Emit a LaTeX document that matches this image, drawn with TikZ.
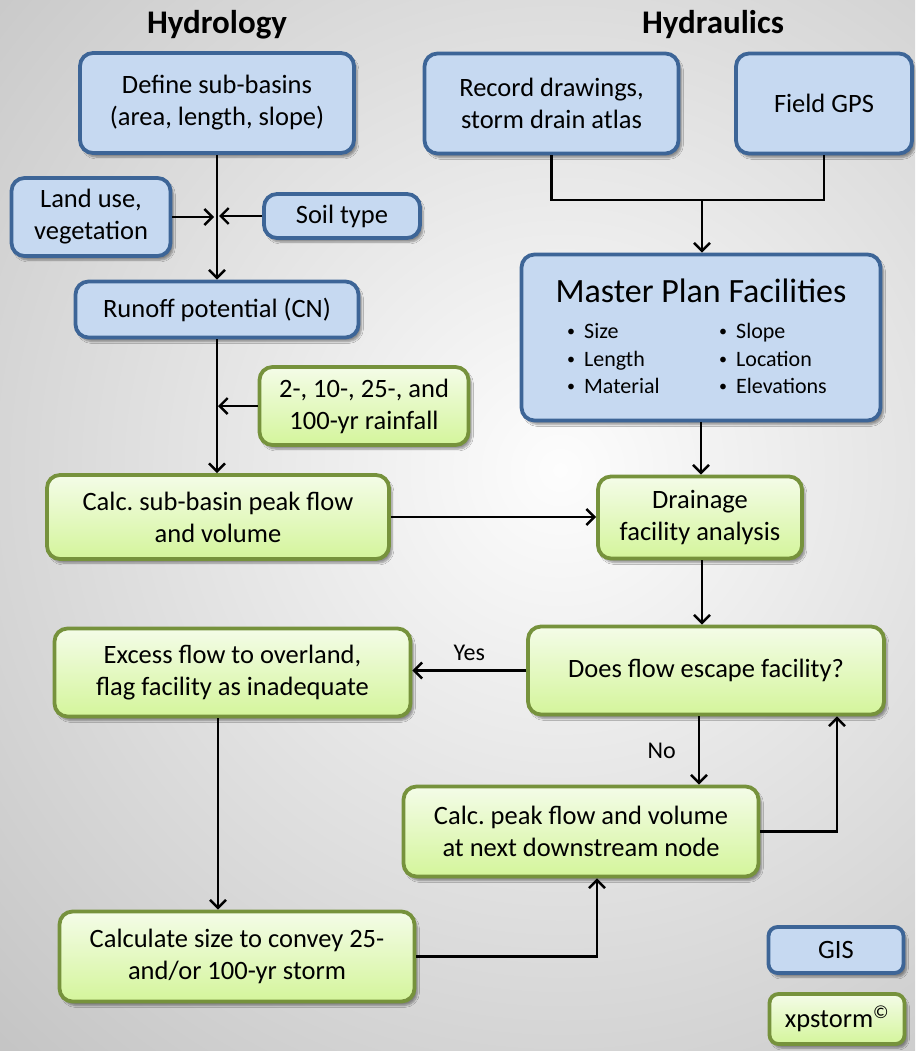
\documentclass[tikz,border=0pt]{standalone}
\usepackage{fontspec}
\setmainfont{Carlito}
\frenchspacing
\usetikzlibrary{arrows.meta,shadows.blur}
\definecolor{bluefill}{RGB}{198,217,241}
\definecolor{blueline}{RGB}{61,101,151}
\definecolor{greenline}{RGB}{118,146,60}
\definecolor{greentop}{RGB}{244,252,232}
\definecolor{greenbot}{RGB}{212,245,155}
\definecolor{bgout}{RGB}{155,155,155}
\definecolor{bgin}{RGB}{253,253,253}
\newcommand\myfont{\fontsize{26.5}{32}\selectfont}
\newcommand\mytitlefont{\fontsize{33}{38}\selectfont\bfseries}
\newcommand\mybul{{\fontsize{16}{16}\selectfont\raisebox{1.5pt}{•}}\hspace{9pt}}
\tikzset{
  base/.style={rounded corners=13pt, line width=3.8pt, inner sep=0pt, align=center, font=\myfont,
    blur shadow={shadow xshift=3pt, shadow yshift=-4pt, shadow blur steps=6, shadow opacity=40}},
  bluebox/.style={base, draw=blueline, fill=bluefill},
  greenbox/.style={base, draw=greenline, top color=greentop, bottom color=greenbot},
  arr/.style={line width=2.4pt, -{Straight Barb[length=8pt,width=16pt]}},
  ln/.style={line width=2.4pt},
  ttl/.style={font=\mytitlefont, inner sep=0pt},
  lbl/.style={font=\fontsize{24}{28}\selectfont, inner sep=0pt},
  bul/.style={font=\fontsize{22}{27}\selectfont, inner sep=0pt, anchor=base west},
}
\begin{document}
\begin{tikzpicture}[x=1pt,y=-1pt]
\useasboundingbox (0,0) rectangle (915,1051);
\begin{scope}
  \clip (0,0) rectangle (915,1051);
  \shade[inner color=bgin, outer color=bgout] (560,470) circle (1400);
\end{scope}

% titles
\node[ttl] (th) at (217,25) {Hydrology};
\node[ttl] (tr) at (713,25) {Hydraulics};

% hydrology
\node[bluebox, minimum width=274, minimum height=100] (def) at (217,103) {Define sub-basins\\(area, length, slope)};
\node[bluebox, minimum width=159, minimum height=78] (land) at (91,217) {Land use,\\vegetation};
\node[bluebox, minimum width=156, minimum height=44] (soil) at (342,216) {Soil type};
\node[bluebox, minimum width=283, minimum height=56] (runoff) at (217,309.5) {Runoff potential (CN)};
\node[greenbox, minimum width=209, minimum height=78] (rain) at (364,406) {2-, 10-, 25-, and\\100-yr rainfall};
\node[greenbox, minimum width=342, minimum height=84] (calc1) at (218,517) {Calc. sub-basin peak flow\\and volume};

% hydraulics
\node[bluebox, minimum width=254, minimum height=100] (rec) at (551.5,103.5) {Record drawings,\\storm drain atlas};
\node[bluebox, minimum width=176, minimum height=100] (gps) at (824,103.5) {Field GPS};
\node[bluebox, minimum width=359, minimum height=166] (master) at (701,337.5) {};
\node[inner sep=0pt, font=\fontsize{34}{40}\selectfont] (mtitle) at (701,291) {Master Plan Facilities};
\node[bul] (b1) at (567,338) {\mybul Size};
\node[bul] (b2) at (567,366) {\mybul Length};
\node[bul] (b3) at (567,393) {\mybul Material};
\node[bul] (b4) at (719,338) {\mybul Slope};
\node[bul] (b5) at (719,366) {\mybul Location};
\node[bul] (b6) at (719,393) {\mybul Elevations};
\node[greenbox, minimum width=204, minimum height=82] (drain) at (700,517.5) {Drainage\\facility analysis};
\node[greenbox, minimum width=356, minimum height=88] (esc) at (706,670.5) {Does flow escape facility?};
\node[greenbox, minimum width=356, minimum height=88] (excess) at (232.5,672.5) {Excess flow to overland,\\flag facility as inadequate};
\node[greenbox, minimum width=355, minimum height=90] (calcpk) at (581,831.5) {Calc. peak flow and volume\\at next downstream node};
\node[greenbox, minimum width=355, minimum height=90] (size) at (237,956.5) {Calculate size to convey 25-\\and/or 100-yr storm};
\node[bluebox, rounded corners=9pt, minimum width=135, minimum height=46] (gis) at (836,950) {GIS};
\node[greenbox, rounded corners=9pt, minimum width=135, minimum height=50] (xps) at (837,1019) {xpstorm\textsuperscript{©}};

% connectors hydrology
\draw[arr] (def.south) -- (runoff.north);
\draw[arr, shorten >=3pt] (land.east) -- (land.east -| def.south);
\draw[arr, shorten >=2pt] (soil.west) -- (soil.west -| def.south);
\draw[arr] (runoff.south) -- (runoff.south |- calc1.north);
\draw[arr, shorten >=1pt] (rain.west) -- (rain.west -| runoff.south);
\draw[arr] (calc1.east) -- (calc1.east -| drain.west);

% connectors hydraulics
\coordinate (m1) at (702,200);
\draw[ln] (rec.south) |- (m1) -| (gps.south);
\draw[arr] (m1) -- (m1 |- master.north);
\draw[arr] (master.south) -- (master.south |- drain.north);
\draw[arr] ([xshift=2pt]drain.south) -- ([xshift=2pt]drain.south |- esc.north);
\draw[arr] (esc.west) -- node[lbl, above=9pt] (yes) {Yes} (esc.west -| excess.east);
\coordinate (nx) at (699,0);
\draw[arr] (nx |- esc.south) -- node[lbl, left=22pt] (no) {No} (nx |- calcpk.north);
\coordinate (lx) at (837,0);
\draw[arr] (calcpk.east) -| (lx |- esc.south);
\coordinate (xl) at (218,0);
\draw[arr] (xl |- excess.south) -- (xl |- size.north);
\coordinate (sl) at (597,0);
\draw[arr] (size.east) -| (sl |- calcpk.south);
\end{tikzpicture}
\end{document}
